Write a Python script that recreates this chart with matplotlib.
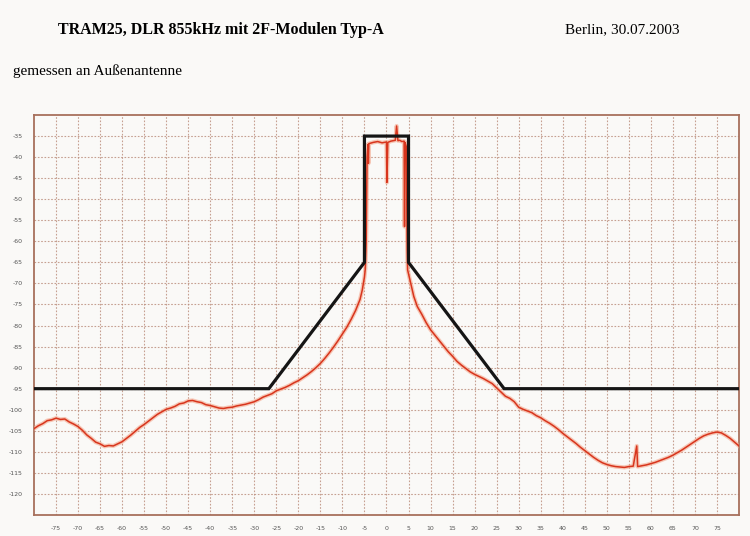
import numpy as np
import matplotlib.pyplot as plt

# Spectrum trace (offset in kHz, level in dB)
freq_khz = [-80, -79, -78, -77, -76, -75, -74, -73, -72, -71, -70, -69, -68, -67, -66,
            -65, -64, -63, -62, -61, -60, -59, -58, -57, -56, -55, -54, -53, -52, -51,
            -50, -49, -48, -47, -46, -45, -44, -43, -42, -41, -40, -39, -38, -37, -36,
            -35, -34, -33, -32, -31, -30, -29, -28, -27, -26, -25, -24, -23, -22, -21,
            -20, -19, -18, -17, -16, -15, -14, -13, -12, -11, -10, -9, -8, -7, -6,
            -5.5, -5, -4.8, -4.6, -4.5, -4.4, -4.2, -4.1, -4.0, -3, -2, -1, 0, 0.1,
            0.3, 1, 2, 2.3, 2.6, 3, 3.5, 4.0, 4.1, 4.2, 4.5, 4.6, 4.7, 4.8, 5.5,
            6.2, 7, 8, 9, 10, 11, 12, 13, 14, 15, 16, 17, 18, 19, 20,
            21, 22, 23, 24, 25, 26, 27, 28, 29, 30, 31, 32, 33, 34, 35,
            36, 37, 38, 39, 40, 41, 42, 43, 44, 45, 46, 47, 48, 49, 50,
            51, 52, 53, 54, 55, 56, 56.8, 57, 58, 59, 60, 61, 62, 63, 64,
            65, 66, 67, 68, 69, 70, 71, 72, 73, 74, 75, 76, 77, 78, 79, 80]
level_db = [-104.5, -103.8, -103.3, -102.6, -102.4, -102.0, -102.3, -102.2, -102.9, -103.4,
            -104.0, -104.9, -106.0, -106.8, -107.7, -108.1, -108.7, -108.5, -108.6, -108.1,
            -107.6, -106.8, -106.0, -105.1, -104.2, -103.5, -102.7, -101.9, -101.1, -100.5,
            -99.9, -99.6, -99.2, -98.6, -98.4, -97.9, -97.8, -98.1, -98.3, -98.8,
            -99.0, -99.3, -99.6, -99.7, -99.5, -99.4, -99.1, -98.9, -98.7, -98.4,
            -98.1, -97.6, -97.0, -96.6, -96.2, -95.5, -95.1, -94.7, -94.2, -93.6,
            -93.1, -92.4, -91.7, -90.9, -90.0, -89.0, -87.8, -86.5, -85.1, -83.6,
            -82.0, -80.4, -78.5, -76.4, -73.8,
            -71.6, -68.5, -66.5, -60.0, -50.0, -40.0, -37.0, -41.5, -36.8, -36.5, -36.3, -36.6, -36.4, -46.0,
            -36.5, -36.2, -36.0, -32.6, -36.1, -36.0, -36.3, -36.2, -56.5, -36.5, -37.5, -50.0, -62.0, -66.8, -70.0,
            -73.1, -75.5, -77.3, -79.3, -81.0, -82.3, -83.6, -84.9, -86.2, -87.3, -88.5, -89.4, -90.2, -91.0, -91.6,
            -92.1, -92.6, -93.2, -93.8, -94.8, -95.8, -96.8, -97.3, -98.1, -99.4, -99.9, -100.3, -100.7, -101.4, -101.9,
            -102.6, -103.2, -103.9, -104.7, -105.6, -106.4, -107.2, -108.0, -108.9, -109.7, -110.5, -111.3, -112.0, -112.6, -113.0,
            -113.3, -113.5, -113.6, -113.7, -113.5, -113.4, -108.6, -113.5, -113.3, -113.1, -112.8, -112.5, -112.1, -111.7, -111.3,
            -110.8, -110.2, -109.6, -108.9, -108.2, -107.5, -106.8, -106.2, -105.8, -105.5, -105.3, -105.5, -106.1, -106.8, -107.7, -108.6]

# Spectrum mask
mask_khz = [-80, -26.7, -5, -5, 5, 5, 26.7, 80]
mask_db = [-95, -95, -65, -35, -35, -65, -95, -95]

x_ticks = list(range(-75, 80, 5))
y_ticks = list(range(-35, -121, -5))

title = "TRAM25, DLR 855kHz mit 2F-Modulen Typ-A"
place_date = "Berlin, 30.07.2003"
subtitle = "gemessen an Außenantenne"

bg = "#faf9f7"
fig = plt.figure(figsize=(7.5, 5.36), dpi=100, facecolor=bg)
ax = fig.add_axes([0.0453, 0.0392, 0.94, 0.7462], facecolor=bg)

ax.set_xlim(-80, 80)
ax.set_ylim(-125, -30)
ax.set_xticks(x_ticks)
ax.set_yticks(y_ticks)
ax.set_xticklabels([str(v) for v in x_ticks])
ax.set_yticklabels([str(v) for v in y_ticks])
ax.tick_params(length=0, labelsize=4.5, labelcolor="#555555", pad=8)
ax.grid(True, color="#b98a78", linestyle=(0, (1.5, 1.5)), linewidth=0.8, alpha=0.8)
for s in ax.spines.values():
    s.set_color("#a7705c")
    s.set_linewidth(1.3)

# measured spectrum, with a faint halo
ax.plot(freq_khz, level_db, color="#f4a58a", linewidth=3.0, alpha=0.6, zorder=3)
ax.plot(freq_khz, level_db, color="#d8351d", linewidth=1.1, zorder=4)
ax.plot(mask_khz, mask_db, color="#151515", linewidth=2.3, zorder=5,
        solid_joinstyle="miter")

fig.text(0.078, 0.944, title, family="Liberation Serif", weight="bold",
         fontsize=11.5, va="center")
fig.text(0.753, 0.944, place_date, family="Liberation Serif", fontsize=11,
         va="center")
fig.text(0.018, 0.868, subtitle, family="Liberation Serif", fontsize=11,
         va="center")

fig.savefig("out.png", dpi=100, facecolor=bg)
